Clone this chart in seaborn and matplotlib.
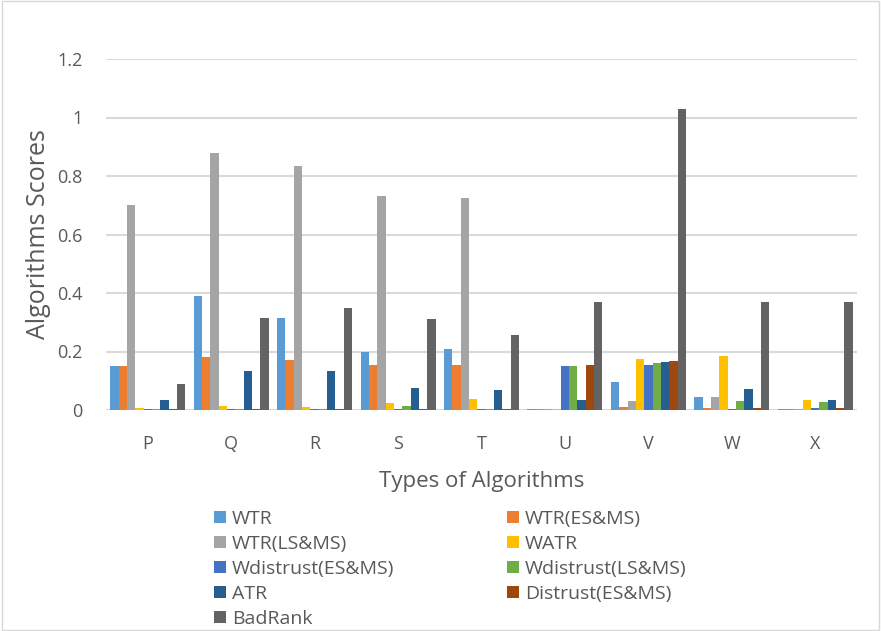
import pandas as pd
import numpy as np
import seaborn as sns
import matplotlib.pyplot as plt
from matplotlib.patches import Rectangle

# data
categories = ["P", "Q", "R", "S", "T", "U", "V", "W", "X"]
series = ["WTR", "WTR(ES&MS)", "WTR(LS&MS)", "WATR", "Wdistrust(ES&MS)",
          "Wdistrust(LS&MS)", "ATR", "Distrust(ES&MS)", "BadRank"]
colors = ["#5B9BD5", "#ED7D31", "#A5A5A5", "#FFC000", "#4472C4",
          "#70AD47", "#255E91", "#9E480E", "#636363"]

wtr = [0.15, 0.39, 0.315, 0.20, 0.21, 0.005, 0.095, 0.045, 0.004]
wtr_es = [0.15, 0.18, 0.17, 0.155, 0.155, 0.003, 0.01, 0.008, 0.003]
wtr_ls = [0.70, 0.88, 0.835, 0.73, 0.725, 0.003, 0.03, 0.045, 0.003]
watr = [0.006, 0.015, 0.01, 0.025, 0.038, 0.003, 0.175, 0.185, 0.035]
wdis_es = [0.002, 0.002, 0.002, 0.005, 0.002, 0.15, 0.155, 0.005, 0.007]
wdis_ls = [0.002, 0.002, 0.005, 0.015, 0.005, 0.15, 0.16, 0.03, 0.028]
atr = [0.035, 0.135, 0.135, 0.075, 0.07, 0.035, 0.165, 0.072, 0.035]
distrust = [0.002, 0.003, 0.003, 0.003, 0.003, 0.155, 0.168, 0.008, 0.007]
badrank = [0.09, 0.315, 0.35, 0.31, 0.255, 0.37, 1.03, 0.37, 0.37]

values = [wtr, wtr_es, wtr_ls, watr, wdis_es, wdis_ls, atr, distrust, badrank]

rows = []
for name, vals in zip(series, values):
    for cat, v in zip(categories, vals):
        rows.append({"Type": cat, "Algorithm": name, "Score": v})
df = pd.DataFrame(rows)

sns.set_style("white")
plt.rcParams['font.family'] = ['Open Sans', 'DejaVu Sans']

fig = plt.figure(figsize=(8.81, 6.31), dpi=100)
ax = fig.add_axes([106/881, 1-410/631, 751/881, 351/631])

sns.barplot(data=df, x="Type", y="Score", hue="Algorithm", order=categories,
            hue_order=series, palette=colors, width=0.9, ax=ax,
            edgecolor="none", linewidth=0, saturation=1, legend=True)

ax.set_ylim(0, 1.2)
ax.set_xlim(-0.5, 8.5)
ax.set_yticks([0, 0.2, 0.4, 0.6, 0.8, 1.0, 1.2])
ax.set_yticklabels(["0", "0.2", "0.4", "0.6", "0.8", "1", "1.2"])
ax.yaxis.grid(True, color="#d9d9d9", linewidth=1.5)
ax.set_axisbelow(True)
for s in ax.spines.values():
    s.set_visible(False)
ax.tick_params(axis="both", length=0, labelsize=13, colors="#595959")
ax.tick_params(axis="x", pad=18)
ax.tick_params(axis="y", pad=17)
ax.set_xlabel("Types of Algorithms", fontsize=16, color="#595959", labelpad=13)
ax.set_ylabel("Algorithms Scores", fontsize=18, color="#595959", labelpad=4)

handles, labels = ax.get_legend_handles_labels()
ax.get_legend().remove()
order = [0, 2, 4, 6, 8, 1, 3, 5, 7]
fig.legend([handles[i] for i in order], [labels[i] for i in order],
           loc="upper left", bbox_to_anchor=(214/881, 1-510/631), ncol=2,
           frameon=False, fontsize=14, handlelength=0.62, handleheight=0.62,
           handletextpad=0.3, columnspacing=5.8, labelspacing=0.36,
           labelcolor="#595959", borderaxespad=0, borderpad=0)

fig.patches.append(Rectangle((0.002, 0.002), 0.996, 0.996, transform=fig.transFigure,
                             fill=False, edgecolor="#d9d9d9", linewidth=1))

fig.savefig("out.png", dpi=100)
